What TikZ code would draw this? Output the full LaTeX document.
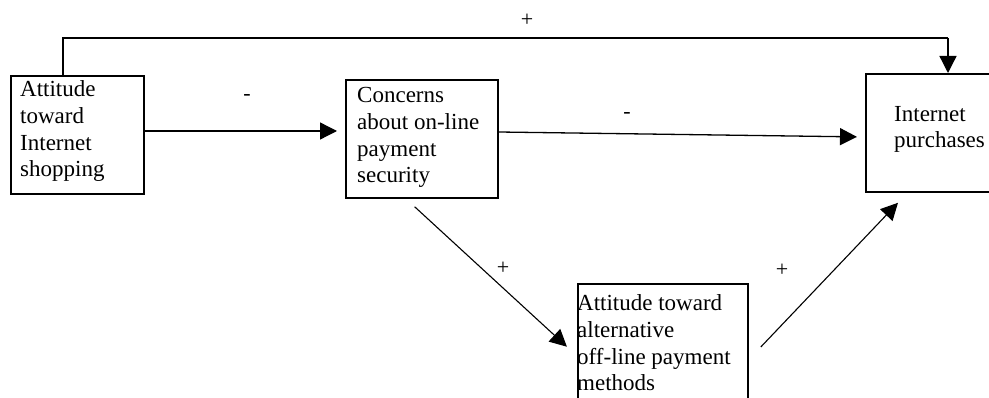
\documentclass[tikz,border=0pt]{standalone}
\usepackage{fontspec}
\setmainfont{Liberation Serif}
\usetikzlibrary{arrows.meta}
\begin{document}
\begin{tikzpicture}[x=1pt,y=-1pt,
  box/.style={draw, line width=1.8pt, rectangle, anchor=north west, inner sep=0pt},
  txt/.style={anchor=base west, inner sep=0pt, align=left, font=\fontsize{23}{26.7}\selectfont},
  sign/.style={inner sep=0pt, font=\fontsize{22}{24}\selectfont},
  arr/.style={line width=1.3pt, -{Triangle[length=17pt,width=17pt]}},
  conn/.style={line width=1.3pt}]
\useasboundingbox (0,0) rectangle (989,398);
\node[box, minimum width=133pt, minimum height=118pt] (A) at (10,75) {};
\node[box, minimum width=152pt, minimum height=118pt] (B) at (345,79) {};
\node[box, minimum width=130pt, minimum height=118pt] (C) at (865,73) {};
\node[box, minimum width=170pt, minimum height=140pt] (D) at (577,283) {};
\node[txt] (tA) at (20,177) {Attitude\\toward\\Internet\\shopping};
\node[txt] (tB) at (357,183) {Concerns\\about on-line\\payment\\security};
\node[txt] (tC) at (894,148) {Internet\\purchases};
\node[txt] (tD) at (577,391) {Attitude toward\\alternative\\off-line payment\\methods};
% connectors
\draw[arr, shorten >=8pt] (A.east |- 0,131) -- (B.west |- 0,131);
\draw[arr, shorten >=8pt] (B.east |- 0,132) -- (C.west |- 0,137);
\draw[conn] (A.north -| 63,0) -- (63,38) -- (948,38) coordinate (tc);
\draw[arr] (tc) -- (C.north -| 948,0);
\draw[line width=1.1pt, -{Triangle[length=17pt,width=17pt]}, shorten <=11.7pt, shorten >=13.7pt] (B.south -| 406,0) -- (D.west |- 0,356);
\draw[line width=1.1pt, -{Triangle[length=17pt,width=17pt]}, shorten <=17.4pt, shorten >=13.8pt] (D.east |- 0,359.6) -- (C.south -| 907.5,0);
% signs
\node[sign] (s1) at (527,20) {+};
\node[sign] (s2) at (247,98) {-};
\node[sign] (s3) at (627,116) {-};
\node[sign] (s4) at (503,268) {+};
\node[sign] (s5) at (782,270) {+};
\end{tikzpicture}
\end{document}
